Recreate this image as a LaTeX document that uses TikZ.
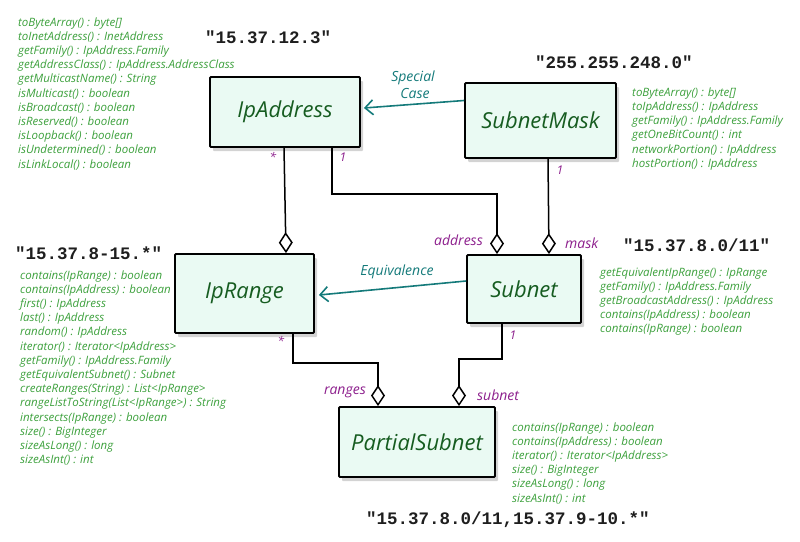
\documentclass[tikz,border=0pt]{standalone}
\usepackage{fontspec}
\usetikzlibrary{arrows.meta,shadows}
\newfontfamily\hand{Open Sans}
\newfontfamily\monob{Liberation Mono}
\definecolor{boxfill}{RGB}{234,250,243}
\definecolor{clsgreen}{RGB}{22,92,32}
\definecolor{methgreen}{RGB}{60,160,60}
\definecolor{lblpurple}{RGB}{140,30,140}
\definecolor{arrteal}{RGB}{20,122,122}
\definecolor{monoblack}{RGB}{30,30,30}
\begin{document}
\begin{tikzpicture}[x=1pt,y=-1pt,
  cls/.style={draw=black, line width=1.8pt, fill=boxfill, rounded corners=1pt,
    drop shadow={shadow xshift=3pt, shadow yshift=-4pt, opacity=0.35, fill=gray},
    font=\hand\itshape\fontsize{22}{26}\selectfont, text=clsgreen},
  meth/.style={inner sep=0pt, font=\hand\itshape\fontsize{11.5}{13}\selectfont, text=methgreen},
  quoted/.style={inner sep=0pt, anchor=west, font=\monob\bfseries\fontsize{17.5}{20}\selectfont, text=monoblack},
  role/.style={inner sep=0pt, font=\hand\itshape\fontsize{14}{16}\selectfont, text=lblpurple},
  mult/.style={inner sep=0pt, font=\hand\itshape\fontsize{12}{14}\selectfont, text=lblpurple},
  rel/.style={inner sep=0pt, font=\hand\itshape\fontsize{14}{15}\selectfont, text=arrteal},
  agg/.style={draw=black, line width=1.5pt, -{Diamond[open, length=21pt, width=14pt, line width=1.5pt]}},
  gen/.style={draw=arrteal, line width=1.6pt, -{Straight Barb[length=8pt, width=15pt, line width=1.6pt]}}
]
\useasboundingbox (0,0) rectangle (800,541);

% classes
\node[cls, minimum width=150pt, minimum height=70pt] (ipaddr) at (285,112) {IpAddress};
\node[cls, minimum width=151pt, minimum height=75pt] (mask) at (540.5,120.5) {SubnetMask};
\node[cls, minimum width=139pt, minimum height=79pt] (range) at (244.5,293.5) {IpRange};
\node[cls, minimum width=114pt, minimum height=68pt] (subnet) at (524,289) {Subnet};
\node[cls, minimum width=156pt, minimum height=70pt] (partial) at (417,442) {PartialSubnet};

% aggregations
\draw[agg] ([xshift=-1pt]ipaddr.south) -- ([xshift=41.5pt]range.north);
\draw[agg] ([xshift=47pt]ipaddr.south) -- ++(0,46) -| ([xshift=-27pt]subnet.north);
\draw[agg] ([xshift=7.5pt]mask.south) -- ([xshift=25pt]subnet.north);
\draw[agg] ([xshift=48.5pt]range.south) -- ++(0,29) -| ([xshift=-39pt]partial.north);
\draw[agg] ([xshift=-22pt]subnet.south) -- ++(0,35) -| ([xshift=42pt]partial.north);

% relations
\draw[gen] ([yshift=20pt]mask.west) -- ([xshift=3pt,yshift=4pt]ipaddr.east);
\draw[gen] ([yshift=8pt]subnet.west) -- ([xshift=4pt,yshift=-1.5pt]range.east);
\node[rel] (lspecial) at (413,78) {Special};
\node[rel] (lcase) at (415,93) {Case};
\node[rel] (lequiv) at (397,272) {Equivalence};

% multiplicities and roles
\node[mult] (m1) at (273,157) {*};
\node[mult] (m2) at (343,157) {1};
\node[mult] (m3) at (560,170) {1};
\node[mult] (m4) at (281,341) {*};
\node[mult] (m5) at (513,335) {1};
\node[role, anchor=east] (raddr) at (483,240) {address};
\node[role, anchor=west] (rmask) at (565,243) {mask};
\node[role, anchor=east] (rranges) at (366,392) {ranges};
\node[role, anchor=west] (rsubnet) at (477,395) {subnet};

% example values
\node[quoted] (q1) at (205,37) {"15.37.12.3"};
\node[quoted] (q2) at (535,62) {"255.255.248.0"};
\node[quoted] (q3) at (15,253) {"15.37.8-15.*"};
\node[quoted] (q4) at (623,245) {"15.37.8.0/11"};
\node[quoted] (q5) at (366,520) {"15.37.8.0/11,15.37.9-10.*"};

% method lists
\foreach \t [count=\i] in {{toByteArray() : byte[]},{toInetAddress() : InetAddress},{getFamily() : IpAddress.Family},{getAddressClass() : IpAddress.AddressClass},{getMulticastName() : String},{isMulticast() : boolean},{isBroadcast() : boolean},{isReserved() : boolean},{isLoopback() : boolean},{isUndetermined() : boolean},{isLinkLocal() : boolean}}
  \node[meth, anchor=base west] (ma\i) at (18,{26+14.2*(\i-1)}) {\t};

\foreach \t [count=\i] in {{toByteArray() : byte[]},{toIpAddress() : IpAddress},{getFamily() : IpAddress.Family},{getOneBitCount() : int},{networkPortion() : IpAddress},{hostPortion() : IpAddress}}
  \node[meth, anchor=base west] (mb\i) at (632,{96+14.3*(\i-1)}) {\t};

\foreach \t [count=\i] in {{contains(IpRange) : boolean},{contains(IpAddress) : boolean},{first() : IpAddress},{last() : IpAddress},{random() : IpAddress},{iterator() : Iterator<IpAddress>},{getFamily() : IpAddress.Family},{getEquivalentSubnet() : Subnet},{createRanges(String) : List<IpRange>},{rangeListToString(List<IpRange>) : String},{intersects(IpRange) : boolean},{size() : BigInteger},{sizeAsLong() : long},{sizeAsInt() : int}}
  \node[meth, anchor=base west] (mc\i) at (20,{279+14.2*(\i-1)}) {\t};

\foreach \t [count=\i] in {{getEquivalentIpRange() : IpRange},{getFamily() : IpAddress.Family},{getBroadcastAddress() : IpAddress},{contains(IpAddress) : boolean},{contains(IpRange) : boolean}}
  \node[meth, anchor=base west] (md\i) at (600,{276+14*(\i-1)}) {\t};

\foreach \t [count=\i] in {{contains(IpRange) : boolean},{contains(IpAddress) : boolean},{iterator() : Iterator<IpAddress>},{size() : BigInteger},{sizeAsLong() : long},{sizeAsInt() : int}}
  \node[meth, anchor=base west] (me\i) at (512,{431+14.2*(\i-1)}) {\t};
\end{tikzpicture}
\end{document}
